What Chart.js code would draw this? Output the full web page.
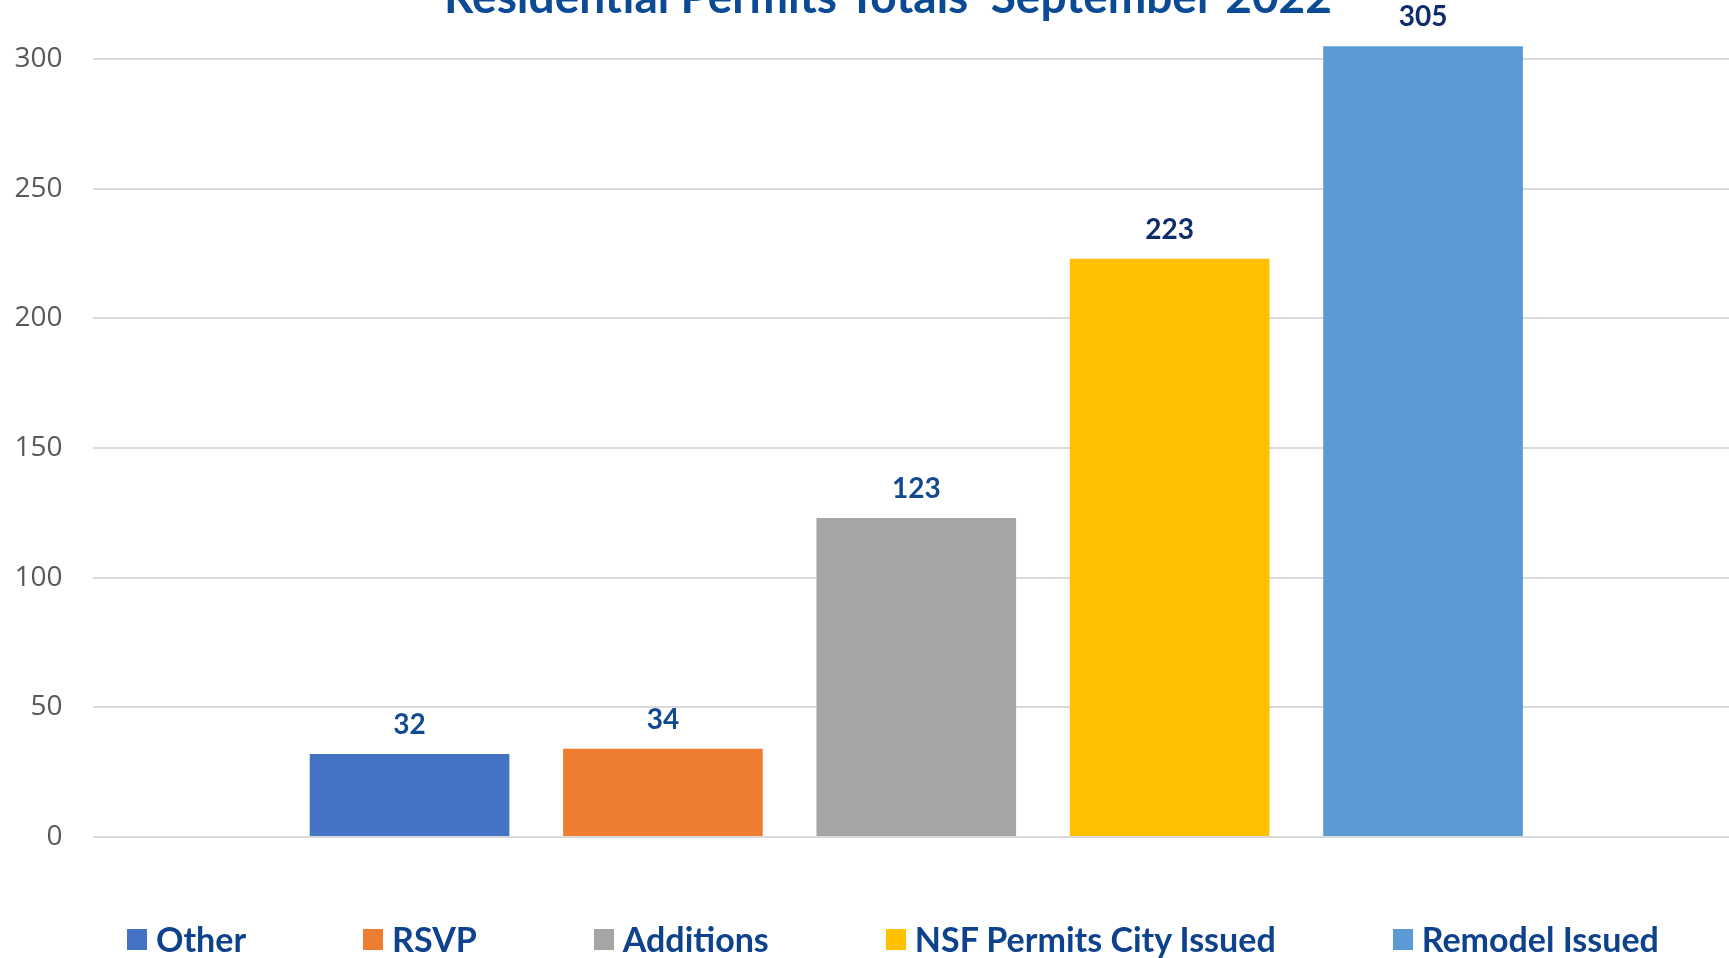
<!DOCTYPE html>
<html>
<head>
<meta charset="utf-8">
<script src="https://cdn.jsdelivr.net/npm/chart.js@4.4.1/dist/chart.umd.min.js"></script>
<style>
  html, body { margin: 0; padding: 0; background: #fff; overflow: hidden; }
  #wrap { position: relative; width: 1729px; height: 958px; overflow: hidden; }
  #box { position: absolute; left: 0; top: -20px; width: 1762px; height: 978px; }
  #legend { position: absolute; left: 127px; top: 922px; display: flex; align-items: center; gap: 117px; }
  .item { display: flex; align-items: center; font: 700 34px Lato, sans-serif; color: #0E428C; line-height: 1; white-space: nowrap; }
  .swatch { width: 20px; height: 21px; margin-right: 9px; }
</style>
</head>
<body>
<div id="wrap">
  <div id="box"><canvas id="permitsChart"></canvas></div>
  <div id="legend"></div>
</div>
<script>
// Data
const categories = ["September 2022"];
const seriesNames = ["Other", "RSVP", "Additions", "NSF Permits City Issued", "Remodel Issued"];
const seriesValues = [32, 34, 123, 223, 305];
const barColors = ["#4472C4", "#ED7D31", "#A5A5A5", "#FFC000", "#5B9BD5"];
const labelColors = ["#124A8F", "#124A8F", "#124A8F", "#0E2C69", "#0E2C69"];
const yStep = 50;
const yMax = 312.5;

// value labels above each bar
const valueLabels = {
  id: "valueLabels",
  afterDatasetsDraw(chart) {
    const ctx = chart.ctx;
    ctx.save();
    ctx.font = "700 28px Lato";
    ctx.textAlign = "center";
    ctx.textBaseline = "alphabetic";
    chart.data.datasets.forEach((ds, i) => {
      chart.getDatasetMeta(i).data.forEach((bar, j) => {
        ctx.fillStyle = labelColors[i];
        ctx.fillText(ds.data[j], bar.x, bar.y - 20);
      });
    });
    ctx.restore();
  },
};

const chart = new Chart(document.getElementById("permitsChart"), {
  type: "bar",
  data: {
    labels: categories,
    datasets: seriesNames.map((name, i) => ({
      label: name,
      data: [seriesValues[i]],
      backgroundColor: barColors[i],
      categoryPercentage: 0.769,
      barPercentage: 0.788,
    })),
  },
  options: {
    responsive: true,
    maintainAspectRatio: false,
    animation: false,
    layout: {
      autoPadding: false,
      padding: { left: 14, right: 0, top: 0, bottom: 121 },
    },
    plugins: {
      legend: { display: false },
      tooltip: { enabled: false },
      title: {
        display: true,
        text: "Residential Permits Totals  September 2022",
        color: "#0B4A94",
        font: { family: "Lato", size: 46, weight: "bold", lineHeight: 1.2 },
        padding: { top: -31, bottom: 1.5 },
      },
    },
    scales: {
      x: {
        display: false,
      },
      y: {
        min: 0,
        max: yMax,
        afterBuildTicks: (axis) => {
          axis.ticks = axis.ticks.filter((t) => t.value % yStep === 0);
        },
        afterFit: (axis) => {
          axis.width = 78.6;
        },
        ticks: {
          stepSize: yStep,
          padding: 30,
          color: "#595959",
          font: { family: "Open Sans", size: 28 },
        },
        grid: {
          color: "#DADADA",
          lineWidth: 2,
          drawTicks: false,
        },
        border: { display: false },
      },
      // empty right axis, only keeps the plot edge where the bars need it
      yRight: {
        position: "right",
        min: 0,
        max: yMax,
        ticks: { display: false },
        grid: { display: false },
        border: { display: false },
        afterFit: (axis) => {
          axis.width = 22;
        },
      },
    },
  },
  plugins: [valueLabels],
});

// HTML legend
const legendEl = document.getElementById("legend");
chart.data.datasets.forEach((ds) => {
  const item = document.createElement("div");
  item.className = "item";
  const sw = document.createElement("span");
  sw.className = "swatch";
  sw.style.background = ds.backgroundColor;
  const txt = document.createElement("span");
  txt.textContent = ds.label;
  item.appendChild(sw);
  item.appendChild(txt);
  legendEl.appendChild(item);
});
</script>
</body>
</html>
